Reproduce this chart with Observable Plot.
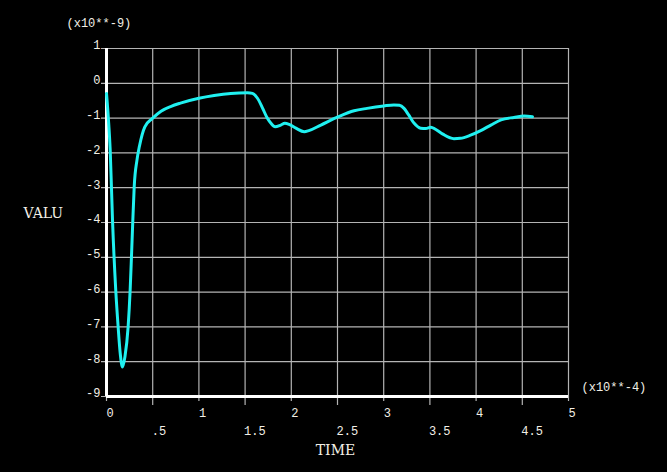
<!DOCTYPE html>
<html>
<head>
<meta charset="utf-8">
<script src="https://cdn.jsdelivr.net/npm/d3@7"></script>
<script src="https://cdn.jsdelivr.net/npm/@observablehq/plot@0.6"></script>
<style>
html, body { margin: 0; padding: 0; background: #000; }
#chart { width: 667px; height: 472px; }
</style>
</head>
<body>
<div id="chart"></div>
<script>
// Time (x10**-4)
const time = [0, 0.02, 0.04, 0.065, 0.1, 0.126, 0.15, 0.173, 0.2, 0.234, 0.256, 0.27, 0.285, 0.3, 0.33, 0.357, 0.415, 0.5, 0.59, 0.7, 0.8, 1.0, 1.165, 1.345, 1.525, 1.58, 1.634, 1.69, 1.74, 1.78, 1.825, 1.886, 1.93, 1.976, 2.05, 2.14, 2.19, 2.32, 2.51, 2.68, 2.82, 3.0, 3.11, 3.17, 3.22, 3.27, 3.33, 3.4, 3.456, 3.51, 3.56, 3.64, 3.76, 3.83, 3.94, 4.05, 4.16, 4.27, 4.41, 4.52, 4.61];
// Value (x10**-9)
const valu = [-0.29, -1.0, -1.92, -3.93, -5.94, -7.0, -7.8, -8.15, -7.85, -7.0, -5.94, -5.0, -3.93, -2.97, -2.2, -1.8, -1.25, -1.0, -0.8, -0.66, -0.57, -0.43, -0.35, -0.29, -0.27, -0.29, -0.43, -0.72, -1.0, -1.15, -1.25, -1.2, -1.15, -1.18, -1.29, -1.39, -1.36, -1.2, -0.96, -0.79, -0.72, -0.65, -0.62, -0.63, -0.72, -0.91, -1.15, -1.29, -1.3, -1.26, -1.32, -1.46, -1.59, -1.58, -1.49, -1.36, -1.2, -1.05, -0.98, -0.94, -0.96];

const xIntTicks = [0, 1, 2, 3, 4, 5];
const xIntLabels = ["0", "1", "2", "3", "4", "5"];
const xHalfTicks = [0.5, 1.5, 2.5, 3.5, 4.5];
const xHalfLabels = [".5", "1.5", "2.5", "3.5", "4.5"];
const yTicks = [1, 0, -1, -2, -3, -4, -5, -6, -7, -8, -9];
const yLabels = ["1", "0", "-1", "-2", "-3", "-4", "-5", "-6", "-7", "-8", "-9"];
const xTitle = "TIME";
const yTitle = "VALU";
const xScaleNote = "(x10**-4)";
const yScaleNote = "(x10**-9)";

const data = time.map((t, i) => ({t, v: valu[i]}));
const xi = xIntTicks.map((x, i) => ({x, label: xIntLabels[i]}));
const xh = xHalfTicks.map((x, i) => ({x, label: xHalfLabels[i]}));
const yl = yTicks.map((y, i) => ({y, label: yLabels[i]}));

const grid = "#b4b4b4";
const txt = "#f2efe6";
const mono = "'Liberation Mono', 'DejaVu Sans Mono', monospace";
const serif = "'DejaVu Serif', 'Liberation Serif', serif";

const chart = Plot.plot({
  width: 667,
  height: 472,
  marginLeft: 106,
  marginRight: 99,
  marginTop: 48,
  marginBottom: 76,
  style: {background: "#000", color: txt, fontFamily: mono, fontSize: "12px", overflow: "visible"},
  x: {domain: [0, 5], axis: null},
  y: {domain: [-9, 1], axis: null},
  marks: [
    Plot.ruleY(yl, {y: "y", x1: 0, x2: 5, stroke: grid, strokeWidth: 1.2, insetLeft: -5}),
    Plot.ruleX(xi, {x: "x", y1: 1, y2: -9, stroke: grid, strokeWidth: 1.2, insetBottom: -5}),
    Plot.ruleX(xh, {x: "x", y1: 1, y2: -9, stroke: grid, strokeWidth: 1.2, insetBottom: -9}),
    Plot.ruleX([0], {y1: 1, y2: -9, stroke: "#fff", strokeWidth: 3}),
    Plot.ruleY([-9], {x1: 0, x2: 5, stroke: "#fff", strokeWidth: 3}),
    Plot.line(data, {x: "t", y: "v", stroke: "#1ff0f0", strokeWidth: 3, curve: "monotone-x"}),
    Plot.text(yl, {x: 0, y: "y", text: "label", textAnchor: "end", dx: -6, dy: -3, fill: txt, fontFamily: mono, fontSize: 12}),
    Plot.text(xi, {x: "x", y: -9, text: "label", textAnchor: "start", dx: 0, dy: 17, fill: txt, fontFamily: mono, fontSize: 12}),
    Plot.text(xh, {x: "x", y: -9, text: "label", textAnchor: "start", dx: -1, dy: 35, fill: txt, fontFamily: mono, fontSize: 12}),
    Plot.text([yTitle], {frameAnchor: "left", textAnchor: "start", lineAnchor: "middle", dx: -83, dy: -9, fill: txt, fontFamily: serif, fontSize: 14}),
    Plot.text([xTitle], {frameAnchor: "bottom", textAnchor: "middle", dx: -2, dy: 58, fill: txt, fontFamily: serif, fontSize: 14}),
    Plot.text([yScaleNote], {frameAnchor: "top-left", textAnchor: "start", lineAnchor: "middle", dx: -40, dy: -25, fill: txt, fontFamily: mono, fontSize: 12}),
    Plot.text([xScaleNote], {frameAnchor: "bottom-right", textAnchor: "start", lineAnchor: "middle", dx: 13, dy: -9, fill: txt, fontFamily: mono, fontSize: 12})
  ]
});
document.getElementById("chart").appendChild(chart);
</script>
</body>
</html>
